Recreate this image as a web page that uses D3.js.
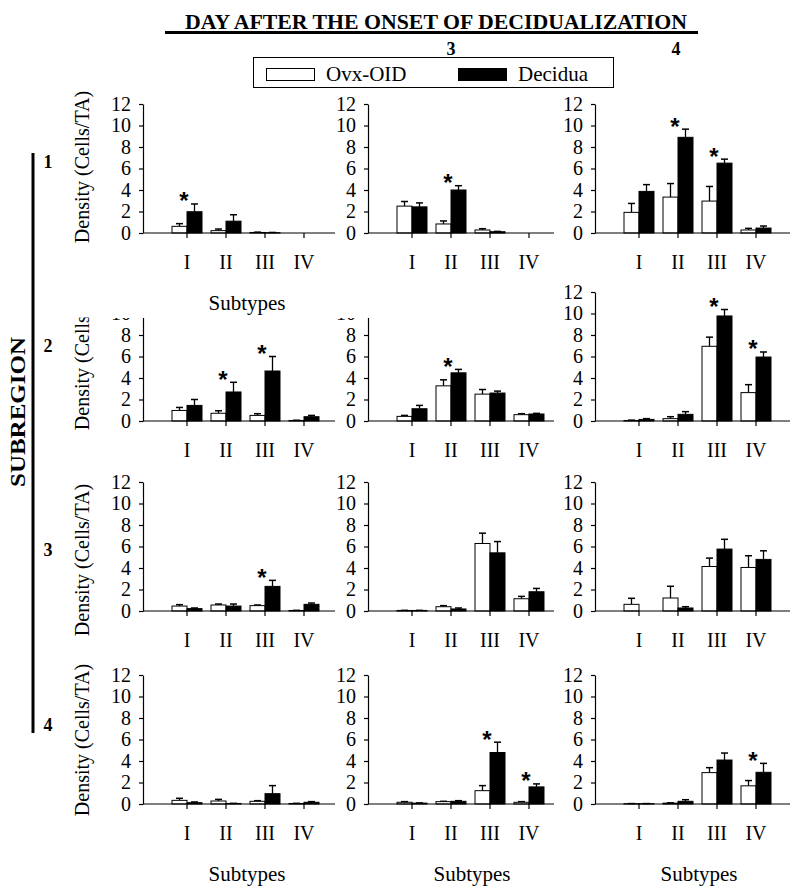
<!DOCTYPE html>
<html>
<head>
<meta charset="utf-8">
<script src="https://cdn.jsdelivr.net/npm/d3@7/dist/d3.min.js"></script>
<style>
  body { margin: 0; background: #fff; }
  svg { display: block; font-family: "Liberation Serif", "Times New Roman", serif; }
</style>
</head>
<body>
<div id="chart"></div>
<script>
// categories
const subtypes = ['I', 'II', 'III', 'IV'];
const seriesNames = ['Ovx-OID', 'Decidua'];
const subregions = ['1', '2', '3', '4'];
const dayLabels = ['3', '4'];          // headers over the 2nd and 3rd column
const yTicks = [0, 2, 4, 6, 8, 10, 12];

// values: [subregion][day column][subtype]
const ovxMean = [
  [[0.62, 0.22, 0.05, 0], [2.5, 0.84, 0.28, 0], [1.92, 3.34, 2.97, 0.28]],
  [[0.98, 0.72, 0.52, 0.05], [0.43, 3.27, 2.5, 0.59], [0.05, 0.22, 6.95, 2.64]],
  [[0.46, 0.56, 0.5, 0.05], [0.05, 0.4, 6.28, 1.14], [0.62, 1.21, 4.14, 4.05]],
  [[0.34, 0.28, 0.25, 0.05], [0.16, 0.22, 1.24, 0.16], [0.03, 0.08, 2.92, 1.69]]
];
const ovxSem = [
  [[0.25, 0.15, 0.03, 0], [0.43, 0.28, 0.12, 0], [0.83, 1.26, 1.36, 0.15]],
  [[0.28, 0.23, 0.16, 0.02], [0.09, 0.56, 0.43, 0.09], [0.03, 0.18, 0.85, 0.74]],
  [[0.13, 0.09, 0.06, 0.01], [0.01, 0.1, 0.96, 0.22], [0.56, 1.09, 0.78, 1.09]],
  [[0.19, 0.15, 0.06, 0.01], [0.06, 0.03, 0.47, 0.06], [0.01, 0.03, 0.46, 0.49]]
];
const decMean = [
  [[1.98, 1.1, 0.03, 0], [2.43, 4.0, 0.12, 0], [3.87, 8.9, 6.5, 0.46]],
  [[1.45, 2.7, 4.65, 0.4], [1.14, 4.48, 2.6, 0.65], [0.15, 0.62, 9.77, 5.95]],
  [[0.22, 0.46, 2.29, 0.62], [0.05, 0.19, 5.41, 1.79], [0, 0.28, 5.76, 4.8]],
  [[0.12, 0.05, 0.96, 0.16], [0.08, 0.25, 4.79, 1.59], [0.03, 0.25, 4.09, 2.95]]
];
const decSem = [
  [[0.72, 0.6, 0.02, 0], [0.37, 0.4, 0.03, 0], [0.63, 0.76, 0.37, 0.19]],
  [[0.55, 0.9, 1.35, 0.12], [0.31, 0.32, 0.18, 0.06], [0.07, 0.25, 0.6, 0.47]],
  [[0.06, 0.19, 0.56, 0.12], [0.01, 0.09, 1.05, 0.31], [0, 0.12, 0.91, 0.8]],
  [[0.07, 0.01, 0.75, 0.06], [0.02, 0.06, 0.96, 0.28], [0.01, 0.15, 0.65, 0.83]]
];
// significant differences (*)
const stars = [
  [['I'], ['II'], ['II', 'III']],
  [['II', 'III'], ['II'], ['III', 'IV']],
  [['III'], [], []],
  [[], ['III', 'IV'], ['IV']]
];

// layout
const width = 800, height = 894;
const colX = [143, 368, 595];
const colW = [192, 186, 195];
const rowZero = [233, 421, 611, 804];
const rowTitleY = [167, 354, 560, 740];
const plotH = 129;
const barW = 15;

const svg = d3.select('#chart').append('svg')
  .attr('width', width)
  .attr('height', height);

function drawPanel(r, c) {
  const x0 = colX[c];
  const zero = rowZero[r];
  const y = d3.scaleLinear().domain([0, 12]).range([zero, zero - plotH]);
  const x = d3.scaleBand().domain(subtypes).range([x0 + 24.5, x0 + 24.5 + 156]);
  const inner = d3.scaleBand().domain(seriesNames).range([-barW, barW]);
  const g = svg.append('g');

  const rows = subtypes.map((s, i) => ({
    s,
    vals: [
      { key: 'Ovx-OID', mean: ovxMean[r][c][i], sem: ovxSem[r][c][i], fill: '#fff' },
      { key: 'Decidua', mean: decMean[r][c][i], sem: decSem[r][c][i], fill: '#000' }
    ]
  }));

  const groups = g.selectAll('g.grp')
    .data(rows)
    .join('g')
    .attr('class', 'grp')
    .attr('transform', d => `translate(${x(d.s) + x.bandwidth() / 2},0)`);

  const bars = groups.selectAll('g.bar')
    .data(d => d.vals)
    .join('g')
    .attr('class', 'bar');

  // error bars (upper only)
  bars.filter(d => d.mean > 0 || d.sem > 0)
    .append('line')
    .attr('x1', d => inner(d.key) + barW / 2)
    .attr('x2', d => inner(d.key) + barW / 2)
    .attr('y1', d => y(d.mean))
    .attr('y2', d => y(d.mean + d.sem))
    .attr('stroke', '#000')
    .attr('stroke-width', 1.3);
  bars.filter(d => d.mean > 0 || d.sem > 0)
    .append('line')
    .attr('x1', d => inner(d.key) + barW / 2 - 3.5)
    .attr('x2', d => inner(d.key) + barW / 2 + 3.5)
    .attr('y1', d => y(d.mean + d.sem))
    .attr('y2', d => y(d.mean + d.sem))
    .attr('stroke', '#000')
    .attr('stroke-width', 1.5);

  bars.append('rect')
    .attr('x', d => inner(d.key))
    .attr('y', d => y(d.mean))
    .attr('width', inner.bandwidth())
    .attr('height', d => zero - y(d.mean))
    .attr('fill', d => d.fill)
    .attr('stroke', '#000')
    .attr('stroke-width', 1);

  // asterisks
  groups.filter(d => stars[r][c].includes(d.s))
    .append('text')
    .attr('x', -3)
    .attr('y', d => y(d3.max(d.vals, v => v.mean + v.sem)) - 8 + 13.5)
    .attr('text-anchor', 'middle')
    .style('font-family', '"Liberation Sans", Arial, sans-serif')
    .style('font-weight', 'bold')
    .style('font-size', '24px')
    .text('*');

  // y axis
  const ya = g.append('g')
    .attr('transform', `translate(${x0},0)`)
    .call(d3.axisLeft(y).tickValues(yTicks).tickSize(4).tickSizeOuter(0).tickPadding(8));
  ya.select('.domain').attr('stroke', '#000').attr('stroke-width', 1.2);
  ya.selectAll('.tick line').attr('stroke', '#000').attr('stroke-width', 1.2);
  ya.selectAll('.tick text')
    .style('font-family', '"Liberation Serif", "Times New Roman", serif')
    .style('font-size', '20px')
    .attr('fill', '#000');

  // x axis
  const xa = g.append('g')
    .attr('transform', `translate(0,${zero})`)
    .call(d3.axisBottom(x).tickSize(5).tickSizeOuter(0).tickPadding(16.5));
  xa.select('.domain').remove();
  xa.append('line')
    .attr('x1', x0).attr('x2', x0 + colW[c])
    .attr('stroke', '#000').attr('stroke-width', 1.2);
  xa.selectAll('.tick line').attr('stroke', '#000').attr('stroke-width', 1.2);
  xa.selectAll('.tick text')
    .style('font-family', '"Liberation Serif", "Times New Roman", serif')
    .style('font-size', '20px')
    .attr('fill', '#000');
}

subregions.forEach((sr, r) => {
  [0, 1, 2].forEach(c => drawPanel(r, c));
});

// white patch that hides the tops of the 2nd-row panels (as in the figure)
svg.append('rect')
  .attr('x', 55).attr('y', 272)
  .attr('width', 510).attr('height', 46)
  .attr('fill', '#fff');

// y axis titles
subregions.forEach((sr, r) => {
  const t = svg.append('text')
    .attr('transform', `translate(89,${rowTitleY[r]}) rotate(-90)`)
    .attr('text-anchor', 'middle')
    .style('font-size', '20px')
    .text('Density (Cells/TA)');
});
// row 2 title is cut by the patch
svg.append('rect')
  .attr('x', 60).attr('y', 272)
  .attr('width', 40).attr('height', 45.5)
  .attr('fill', '#fff');

// x axis titles
const subtypeLabels = [[0, 0], [3, 0], [3, 1], [3, 2]];
subtypeLabels.forEach(([r, c]) => {
  svg.append('text')
    .attr('x', colX[c] + 104)
    .attr('y', rowZero[r] + 77)
    .attr('text-anchor', 'middle')
    .style('font-size', '21px')
    .text('Subtypes');
});

// row numbers and SUBREGION bracket
subregions.forEach((sr, r) => {
  svg.append('text')
    .attr('x', 48)
    .attr('y', [162, 346, 550, 725][r] + 6)
    .attr('text-anchor', 'middle')
    .style('font-weight', 'bold')
    .style('font-size', '18px')
    .text(sr);
});
svg.append('line')
  .attr('x1', 33).attr('x2', 33)
  .attr('y1', 153).attr('y2', 733)
  .attr('stroke', '#000').attr('stroke-width', 3);
svg.append('text')
  .attr('transform', 'translate(25,412) rotate(-90)')
  .attr('text-anchor', 'middle')
  .attr('textLength', 150)
  .attr('lengthAdjust', 'spacingAndGlyphs')
  .style('font-weight', 'bold')
  .style('font-size', '20px')
  .text('SUBREGION');

// header
svg.append('text')
  .attr('x', 436).attr('y', 29)
  .attr('text-anchor', 'middle')
  .attr('textLength', 502)
  .attr('lengthAdjust', 'spacingAndGlyphs')
  .style('font-weight', 'bold')
  .style('font-size', '21px')
  .text('DAY AFTER THE ONSET OF DECIDUALIZATION');
svg.append('line')
  .attr('x1', 165).attr('x2', 698)
  .attr('y1', 32.5).attr('y2', 32.5)
  .attr('stroke', '#000').attr('stroke-width', 3);
[451, 676].forEach((cx, i) => {
  svg.append('text')
    .attr('x', cx).attr('y', 55)
    .attr('text-anchor', 'middle')
    .style('font-weight', 'bold')
    .style('font-size', '18px')
    .text(dayLabels[i]);
});

// legend
const legend = svg.append('g');
legend.append('rect')
  .attr('x', 253.5).attr('y', 57.5)
  .attr('width', 360).attr('height', 30)
  .attr('fill', '#fff').attr('stroke', '#000').attr('stroke-width', 1);
const legendItems = legend.selectAll('g.item')
  .data(seriesNames)
  .join('g')
  .attr('class', 'item')
  .attr('transform', (d, i) => `translate(${[266, 458][i]},0)`);
legendItems.append('rect')
  .attr('x', 0.5).attr('y', 68.5)
  .attr('width', 48).attr('height', 12)
  .attr('fill', (d, i) => i === 0 ? '#fff' : '#000')
  .attr('stroke', '#000').attr('stroke-width', 1);
legendItems.append('text')
  .attr('x', 60).attr('y', 81)
  .style('font-size', '21px')
  .text(d => d);
</script>
</body>
</html>
